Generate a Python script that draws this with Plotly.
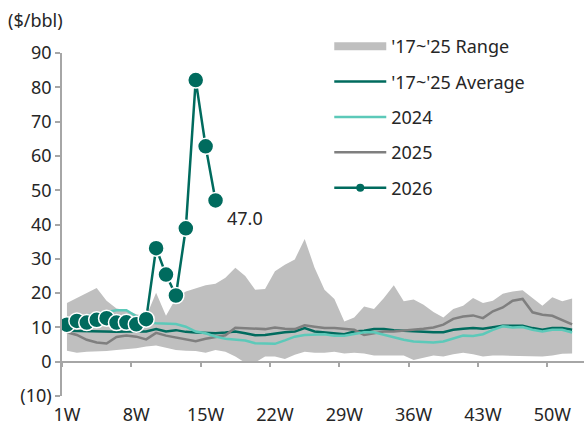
import plotly.graph_objects as go

weeks = list(range(1, 53))
tick_weeks = [1, 8, 15, 22, 29, 36, 43, 50]
tick_labels = ["1W", "8W", "15W", "22W", "29W", "36W", "43W", "50W"]
y_ticks = [-10, 0, 10, 20, 30, 40, 50, 60, 70, 80, 90]
y_tick_labels = ["(10)", "0", "10", "20", "30", "40", "50", "60", "70", "80", "90"]

range_upper = [17.1, 18.5, 20.0, 21.5, 17.8, 15.5, 15.0, 13.8, 13.2, 20.1,
               13.4, 18.5, 20.5, 21.5, 22.3, 22.7, 24.5, 27.4, 25.0, 21.0,
               21.2, 26.4, 28.3, 29.8, 35.8, 27.4, 21.0, 18.3, 11.7, 12.9,
               16.1, 15.4, 18.6, 22.3, 17.6, 18.1, 16.6, 14.5, 12.9, 15.4,
               16.3, 18.6, 17.1, 17.8, 19.8, 20.5, 20.8, 18.6, 16.3, 18.8,
               17.6, 18.4]
range_lower = [3.2, 2.6, 2.9, 2.9, 3.1, 3.4, 3.6, 3.9, 4.4, 4.7,
               4.1, 3.4, 3.2, 3.1, 2.6, 3.4, 2.9, 1.5, -0.3, -0.2,
               1.5, 1.5, 0.8, 2.0, 2.9, 2.6, 2.6, 2.9, 2.4, 2.6,
               2.4, 1.8, 1.8, 1.8, 1.8, 0.5, 1.2, 1.8, 1.5, 2.2,
               2.6, 2.2, 1.5, 1.8, 1.8, 1.7, 1.7, 1.5, 1.5, 1.8,
               2.3, 2.4]
avg_17_25 = [9.0, 8.9, 8.8, 8.8, 8.7, 8.7, 8.8, 8.7, 8.8, 9.5,
             8.8, 9.2, 8.7, 8.5, 8.3, 8.3, 8.5, 8.8, 8.3, 7.7,
             7.8, 8.3, 8.6, 8.8, 9.8, 8.8, 8.5, 8.2, 8.0, 8.8,
             9.0, 9.5, 9.5, 9.2, 9.0, 9.0, 8.8, 8.6, 8.6, 9.3,
             9.6, 9.8, 9.6, 10.0, 10.5, 10.5, 10.5, 9.8, 9.3, 9.8,
             9.8, 9.3]
y2024 = [11.0, 12.5, 13.5, 14.0, 14.5, 15.0, 15.0, 13.3, 11.5, 11.2,
         11.0, 11.0, 10.2, 8.8, 8.3, 7.3, 6.7, 6.4, 6.2, 5.4,
         5.2, 5.2, 6.2, 7.3, 7.8, 8.0, 8.0, 7.6, 7.6, 8.1,
         8.6, 8.6, 7.8, 7.0, 6.4, 5.9, 5.7, 5.6, 5.9, 6.8,
         7.6, 7.5, 8.0, 9.3, 10.3, 10.0, 10.1, 9.3, 8.8, 9.3,
         9.3, 8.5]
y2025 = [8.6, 7.8, 6.4, 5.6, 5.3, 7.2, 7.6, 7.3, 6.5, 8.4,
         7.6, 7.0, 6.5, 6.0, 6.7, 7.1, 7.7, 9.9, 9.8, 9.5,
         9.5, 10.0, 9.6, 9.5, 10.6, 10.2, 9.8, 9.8, 9.6, 9.3,
         7.8, 8.3, 8.8, 8.8, 9.0, 9.3, 9.6, 10.0, 10.8, 12.5,
         13.2, 13.5, 12.7, 14.7, 15.8, 17.8, 18.3, 14.4, 13.7, 13.4,
         12.2, 10.9]
weeks_2026 = list(range(1, 17))
y2026 = [10.8, 11.9, 11.4, 12.2, 12.7, 11.4, 11.5, 10.9, 12.4, 33.1,
         25.4, 19.3, 38.9, 82.1, 62.8, 47.0]
last_label = "47.0"

DARK = "#006B5E"
LIGHT = "#5CC9B9"
GREY = "#7F7F7F"
RANGE = "#BFBFBF"
AXIS = "#A6A6A6"
FONT = "Noto Sans"
TXT = "#262626"
FS = 18

fig = go.Figure()
fig.add_trace(go.Scatter(x=weeks, y=range_lower, mode="lines", line=dict(width=0, color=RANGE),
                         showlegend=False, hoverinfo="skip"))
fig.add_trace(go.Scatter(x=weeks, y=range_upper, mode="lines", line=dict(width=0, color=RANGE),
                         fill="tonexty", fillcolor=RANGE, name="'17~'25 Range",
                         showlegend=False))
fig.add_trace(go.Scatter(x=weeks, y=avg_17_25, mode="lines", line=dict(width=2.5, color=DARK),
                         name="'17~'25 Average", legendgroup="b", legendrank=2))
fig.add_trace(go.Scatter(x=weeks, y=y2025, mode="lines", line=dict(width=2.5, color=GREY),
                         name="2025", legendgroup="d", legendrank=4))
fig.add_trace(go.Scatter(x=weeks, y=y2024, mode="lines", line=dict(width=2.5, color=LIGHT),
                         name="2024", legendgroup="c", legendrank=3))
fig.add_trace(go.Scatter(x=weeks_2026, y=y2026, mode="lines+markers",
                         line=dict(width=2.5, color=DARK),
                         marker=dict(size=16, color=DARK, line=dict(width=1.5, color="white")),
                         showlegend=False))
# legend-only entries
fig.add_trace(go.Scatter(x=[None], y=[None], mode="lines", line=dict(width=8, color=RANGE),
                         name="'17~'25 Range", legendgroup="a", legendrank=1))
fig.add_trace(go.Scatter(x=[None], y=[None], mode="lines+markers",
                         line=dict(width=2.5, color=DARK),
                         marker=dict(size=8, color=DARK),
                         name="2026", legendgroup="e", legendrank=5))
# helper trace for the zero-level category axis
fig.add_trace(go.Scatter(x=[None], y=[None], xaxis="x2", showlegend=False, hoverinfo="skip"))

fig.add_annotation(x=weeks_2026[-1], y=y2026[-1], text=last_label, showarrow=False,
                   xshift=29, yshift=-18, font=dict(size=FS, color=TXT, family=FONT))
fig.add_annotation(xref="paper", yref="paper", x=-0.108, y=1.097, xanchor="left", yanchor="middle",
                   text="($/bbl)", showarrow=False, font=dict(size=FS, color=TXT, family=FONT))

xr = [0.5, 53.2]
fig.update_layout(
    width=584, height=426,
    margin=dict(l=62, r=0, t=53, b=30),
    plot_bgcolor="white", paper_bgcolor="white",
    font=dict(family=FONT, size=FS, color=TXT),
    showlegend=True,
    legend=dict(x=0.512, y=1.073, xanchor="left", yanchor="top", bgcolor="rgba(0,0,0,0)",
                font=dict(size=FS, color=TXT, family=FONT), itemwidth=52,
                tracegroupgap=9, traceorder="grouped"),
    xaxis=dict(range=xr, tickmode="array", tickvals=tick_weeks, ticktext=tick_labels,
               showline=False, ticks="", showgrid=False, zeroline=False,
               ticklabelstandoff=6, tickfont=dict(size=FS, color=TXT)),
    xaxis2=dict(range=xr, overlaying="x", anchor="free", position=0.1, side="bottom",
                showline=True, linecolor=AXIS, linewidth=1.5, ticks="outside", ticklen=5,
                tickcolor=AXIS, tickwidth=1.5, tickmode="array",
                tickvals=[0.5, 7.5, 14.5, 21.5, 28.5, 35.5, 42.5, 49.5],
                showticklabels=False, showgrid=False, zeroline=False),
    yaxis=dict(range=[-10, 90], tickmode="array", tickvals=y_ticks, ticktext=y_tick_labels,
               showline=True, linecolor=AXIS, linewidth=1.5, ticks="outside", ticklen=5,
               tickcolor=AXIS, tickwidth=1.5, showgrid=False, zeroline=False,
               tickfont=dict(size=FS, color=TXT)),
)

fig.write_html("out.html", config={"displayModeBar": False},
               post_script="document.body.style.margin='0px';")
